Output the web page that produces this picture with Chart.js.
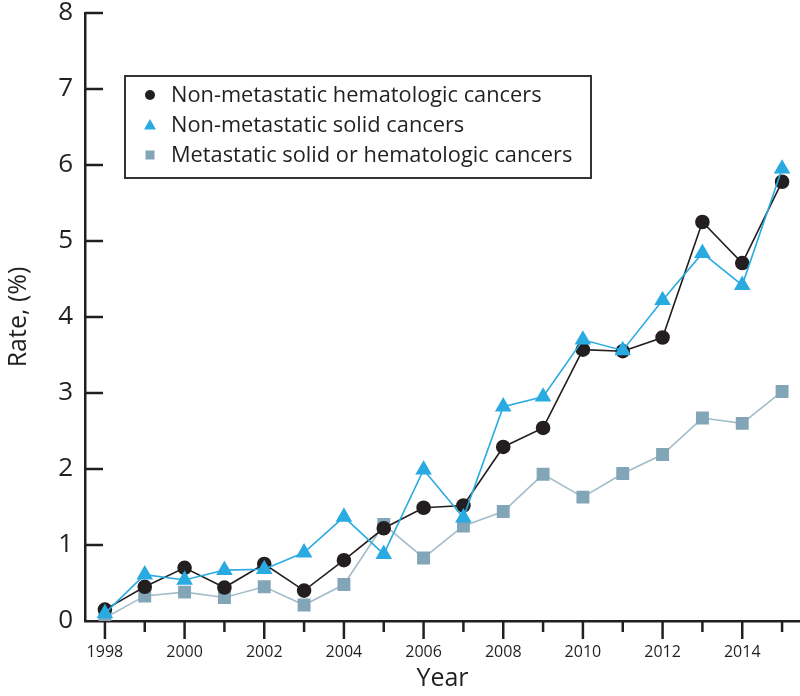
<!DOCTYPE html>
<html>
<head>
<meta charset="utf-8">
<script src="https://cdn.jsdelivr.net/npm/chart.js@4.4.0/dist/chart.umd.min.js"></script>
<style>
html, body { margin: 0; padding: 0; background: #fff; }
</style>
</head>
<body>
<canvas id="myChart" width="800" height="696"></canvas>
<script>
var years = [1998, 1999, 2000, 2001, 2002, 2003, 2004, 2005, 2006, 2007, 2008, 2009, 2010, 2011, 2012, 2013, 2014, 2015];
var hemaRates  = [0.15, 0.45, 0.70, 0.44, 0.75, 0.40, 0.80, 1.22, 1.49, 1.52, 2.29, 2.54, 3.57, 3.55, 3.73, 5.25, 4.71, 5.78];
var solidRates = [0.10, 0.61, 0.54, 0.67, 0.68, 0.90, 1.37, 0.88, 1.99, 1.36, 2.82, 2.95, 3.70, 3.56, 4.22, 4.84, 4.42, 5.95];
var metaRates  = [0.04, 0.33, 0.38, 0.31, 0.45, 0.21, 0.48, 1.27, 0.83, 1.25, 1.44, 1.93, 1.63, 1.94, 2.19, 2.67, 2.60, 3.02];
var seriesNames = ["Non-metastatic hematologic cancers", "Non-metastatic solid cancers", "Metastatic solid or hematologic cancers"];
var yMin = 0, yMax = 8, yStep = 1;

var ink = "#231f20";
var fontFam = "'Open Sans', 'Noto Sans', sans-serif";

var toPoints = function(vals) {
    var pts = [];
    for (var i = 0; i < years.length; i++) pts.push({ x: years[i], y: vals[i] });
    return pts;
};

// small legend drawn inside the plot, like the original figure
var boxLegend = {
    id: 'boxLegend',
    afterDraw: function(chart) {
        var c = chart.ctx;
        var x0 = 125, y0 = 76, w = 466, h = 102;
        c.save();
        c.fillStyle = "#fff";
        c.fillRect(x0, y0, w, h);
        c.strokeStyle = "#333";
        c.lineWidth = 2;
        c.strokeRect(x0, y0, w, h);
        c.font = "21.8px " + fontFam;
        c.textBaseline = "middle";
        c.textAlign = "left";
        for (var i = 0; i < chart.data.datasets.length; i++) {
            var ds = chart.data.datasets[i];
            var mx = 150, my = y0 + 19 + i * 30;
            c.fillStyle = ds.pointBackgroundColor;
            c.beginPath();
            if (ds.pointStyle == 'circle') {
                c.arc(mx, my, 5, 0, Math.PI * 2);
            } else if (ds.pointStyle == 'triangle') {
                c.moveTo(mx, my - 6); c.lineTo(mx + 6, my + 4.5); c.lineTo(mx - 6, my + 4.5); c.closePath();
            } else {
                c.rect(mx - 4.5, my - 4.5, 9, 9);
            }
            c.fill();
            c.fillStyle = ink;
            c.fillText(ds.label, 171, my + 1);
        }
        c.restore();
    }
};

// tick marks: x ticks point down (long on even years), y ticks point into the plot
var axisTicks = {
    id: 'axisTicks',
    afterDraw: function(chart) {
        var c = chart.ctx, xs = chart.scales.x, ys = chart.scales.y;
        c.save();
        c.strokeStyle = ink;
        c.lineWidth = 2.5;
        for (var i = 0; i < xs.ticks.length; i++) {
            var yr = xs.ticks[i].value;
            var px = xs.getPixelForValue(yr);
            var len = (yr % 2 == 0) ? 18 : 11;
            c.beginPath();
            c.moveTo(px, xs.top);
            c.lineTo(px, xs.top + len);
            c.stroke();
        }
        for (var j = 0; j < ys.ticks.length; j++) {
            var py = ys.getPixelForValue(ys.ticks[j].value);
            if (ys.ticks[j].value == yMin) continue;
            c.beginPath();
            c.moveTo(ys.right, py);
            c.lineTo(ys.right + 18, py);
            c.stroke();
        }
        c.restore();
    }
};

var ctx = document.getElementById("myChart");
var myLineChart = new Chart(ctx, {
    type: 'line',
    data: {
        datasets: [{
            label: seriesNames[0],
            data: toPoints(hemaRates),
            borderColor: ink,
            backgroundColor: ink,
            pointBackgroundColor: ink,
            pointBorderColor: ink,
            pointStyle: 'circle',
            pointRadius: 6.5,
            borderWidth: 1.6,
            tension: 0,
            order: 1
        }, {
            label: seriesNames[1],
            data: toPoints(solidRates),
            borderColor: "#29abe2",
            backgroundColor: "#29abe2",
            pointBackgroundColor: "#29abe2",
            pointBorderColor: "#29abe2",
            pointStyle: 'triangle',
            pointRadius: 8,
            borderWidth: 1.6,
            tension: 0,
            order: 0
        }, {
            label: seriesNames[2],
            data: toPoints(metaRates),
            borderColor: "#a3bcc9",
            backgroundColor: "#82a5b7",
            pointBackgroundColor: "#82a5b7",
            pointBorderColor: "#82a5b7",
            pointStyle: 'rect',
            pointRadius: 8,
            borderWidth: 1.6,
            tension: 0,
            order: 2
        }]
    },
    options: {
        responsive: false,
        animation: false,
        layout: { autoPadding: false, padding: { top: 13, right: 0, left: 0, bottom: 0 } },
        plugins: {
            legend: { display: false },
            tooltip: { enabled: false }
        },
        scales: {
            x: {
                type: 'linear',
                min: years[0] - 0.5,
                max: years[years.length - 1] + 0.45,
                border: { color: ink, width: 2.5 },
                grid: { drawOnChartArea: false, drawTicks: true, tickLength: 18, tickColor: 'rgba(0,0,0,0)' },
                ticks: {
                    stepSize: 1,
                    includeBounds: false,
                    autoSkip: false,
                    maxRotation: 0,
                    padding: 4,
                    color: ink,
                    font: { family: fontFam, size: 16 },
                    callback: function(v) { return v % 2 == 0 ? String(v) : ''; }
                },
                title: {
                    display: true,
                    text: 'Year',
                    color: ink,
                    font: { family: fontFam, size: 25 },
                    padding: { top: 0, bottom: 2 }
                },
                afterFit: function(s) { s.height = 75; s.paddingLeft = 0; s.paddingRight = 0; }
            },
            y: {
                min: yMin,
                max: yMax,
                border: { color: ink, width: 2.5 },
                grid: { drawOnChartArea: false, drawTicks: false },
                ticks: {
                    stepSize: yStep,
                    padding: 12,
                    color: ink,
                    font: { family: fontFam, size: 26, lineHeight: 1 }
                },
                title: {
                    display: true,
                    text: 'Rate, (%)',
                    color: ink,
                    font: { family: fontFam, size: 25 },
                    padding: { top: 4, bottom: 0 }
                },
                afterFit: function(s) { s.width = 85; s.paddingTop = 0; s.paddingBottom = 0; }
            }
        }
    },
    plugins: [axisTicks, boxLegend]
});
</script>
</body>
</html>
